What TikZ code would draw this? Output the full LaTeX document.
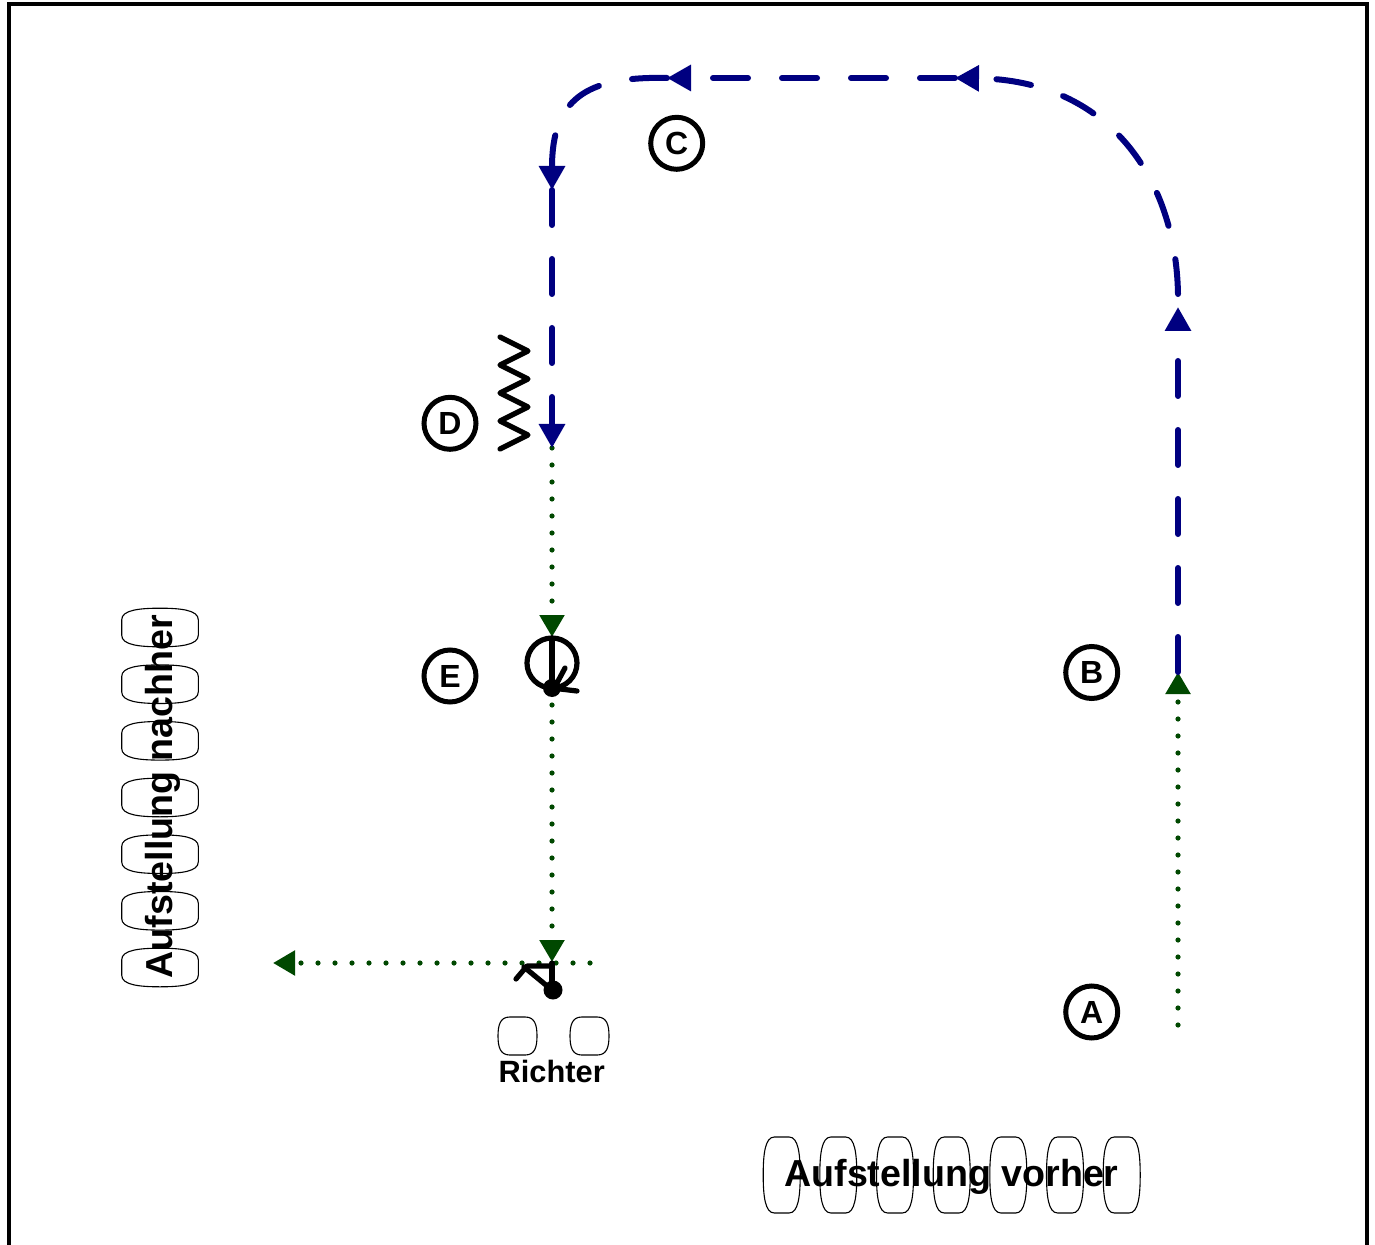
\documentclass[tikz,border=0pt]{standalone}
\usepackage{fontspec}
\setmainfont{Liberation Sans}
\usetikzlibrary{arrows.meta}
\definecolor{navyblue}{RGB}{0,0,128}
\definecolor{dgreen}{RGB}{0,72,0}
\newcommand{\vbarrel}[4]{\draw[barrelline] ({#1-0.4*#3},{#2-#4}) -- ({#1+0.4*#3},{#2-#4}) .. controls ({#1+0.9*#3},{#2-#4}) and ({#1+#3},{#2-0.55*#4}) .. ({#1+#3},#2) .. controls ({#1+#3},{#2+0.55*#4}) and ({#1+0.9*#3},{#2+#4}) .. ({#1+0.4*#3},{#2+#4}) -- ({#1-0.4*#3},{#2+#4}) .. controls ({#1-0.9*#3},{#2+#4}) and ({#1-#3},{#2+0.55*#4}) .. ({#1-#3},#2) .. controls ({#1-#3},{#2-0.55*#4}) and ({#1-0.9*#3},{#2-#4}) .. cycle;}
\newcommand{\hbarrel}[4]{\draw[barrelline] ({#1-#3},{#2-0.4*#4}) -- ({#1-#3},{#2+0.4*#4}) .. controls ({#1-#3},{#2+0.9*#4}) and ({#1-0.55*#3},{#2+#4}) .. (#1,{#2+#4}) .. controls ({#1+0.55*#3},{#2+#4}) and ({#1+#3},{#2+0.9*#4}) .. ({#1+#3},{#2+0.4*#4}) -- ({#1+#3},{#2-0.4*#4}) .. controls ({#1+#3},{#2-0.9*#4}) and ({#1+0.55*#3},{#2-#4}) .. (#1,{#2-#4}) .. controls ({#1-0.55*#3},{#2-#4}) and ({#1-#3},{#2-0.9*#4}) .. cycle;}
\begin{document}
\begin{tikzpicture}[x=0.5pt,y=-0.5pt,
  lbl/.style={circle,draw,line width=2.5pt,minimum size=26pt,inner sep=0pt,font=\fontsize{16}{19}\selectfont\bfseries},
  bluepath/.style={navyblue,line width=3pt,line cap=round,dash pattern=on 17.5pt off 17pt,-{Triangle[length=12pt,width=12.5pt]}},
  greenpath/.style={dgreen,line width=2.6pt,line cap=round,dash pattern=on 0pt off 8.5pt,-{Triangle[length=11pt,width=12pt]}},
  sym/.style={line width=2.6pt,line cap=round,line join=round},
  barrelline/.style={draw=black,line width=0.55pt},
  bigtxt/.style={font=\fontsize{18.8}{22}\selectfont\bfseries},
  smalltxt/.style={font=\fontsize{15.4}{18}\selectfont\bfseries}
]
\useasboundingbox (0,0) rectangle (1375,1245);
% frame
\draw[line width=2pt] (8.7,1265) -- (8.7,4) -- (1367,4) -- (1367,1265);

% barrels
\foreach \cx in {781.7,838.3,895,951.7,1008.3,1065,1121.7} {\vbarrel{\cx}{1175}{18.5}{38}}
\foreach \cy in {627.5,684.2,740.8,797.5,854.2,910.8,967.5} {\hbarrel{160}{\cy}{38.3}{19.3}}
\vbarrel{517.5}{1036}{19.5}{19}
\vbarrel{589.5}{1036}{19.5}{19}

% texts
\node[bigtxt,anchor=base,inner sep=0pt] (vorher) at (951.5,1186) {Aufstellung vorher};
\node[bigtxt,anchor=base,rotate=90,inner sep=0pt] (nachher) at (172,796.5) {Aufstellung nachher};
\node[smalltxt,anchor=base,inner sep=0pt] (richter) at (551.7,1082) {Richter};

% station labels
\node[lbl] (C) at (676.7,143.3) {C};
\node[lbl] (D) at (450,423.3) {D};
\node[lbl] (E) at (450,676) {E};
\node[lbl] (B) at (1091.7,672.5) {B};
\node[lbl] (A) at (1091.7,1012) {A};

% route coordinates
\coordinate (gA) at (1178,1025);
\coordinate (pB) at (1178,672);
\coordinate (up1) at (1178,307);
\coordinate (up2) at (1178,294);
\coordinate (tr) at (955,78);
\coordinate (tl) at (667,78);
\coordinate (dl) at (552,190);
\coordinate (pD) at (552,448);
\coordinate (eTop) at (552,637);
\coordinate (eBot) at (552,705);
\coordinate (pF) at (552,962);
\coordinate (hStart) at (590,963);
\coordinate (hEnd) at (273,963);

% green dotted
\draw[greenpath] (gA) -- (pB);
\draw[greenpath] (pD) -- (eTop);
\draw[greenpath] (eBot) -- (pF);
\draw[greenpath] (hStart) -- (hEnd);

% blue dashed
\draw[bluepath] (pB) -- (up1);
\draw[bluepath] (up2) .. controls (1176,180) and (1110,80) .. (tr);
\draw[bluepath] (tr) -- (tl);
\draw[bluepath] (tl) .. controls (585,76) and (552,100) .. (dl);
\draw[bluepath] (dl) -- (pD);

% zigzag at D
\draw[sym] (500,337) -- (528,351) -- (500,365) -- (528,379) -- (500,393) -- (528,407) -- (500,421) -- (528,435) -- (500,449);

% symbol at E
\draw[sym] (552,663) circle (25);
\draw[sym] (552,638) -- (552,688);
\fill (552,688) circle (9);
\draw[sym] (552,688) -- (577,691);
\draw[sym] (557,683) -- (565,668);

% symbol at judges
\draw[sym] (552,963) -- (552,990);
\fill (553,990) circle (9.5);
\draw[sym] (552,990) -- (524,967);
\draw[sym] (516,979) -- (527,966) -- (552,966);
\end{tikzpicture}
\end{document}
